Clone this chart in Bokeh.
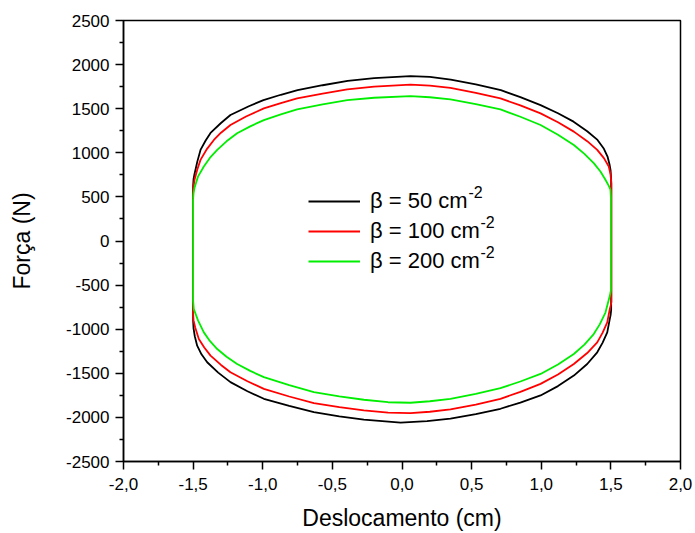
from bokeh.plotting import figure
from bokeh.models import Legend, LegendItem, FixedTicker, Label
from bokeh.embed import file_html
from bokeh.resources import INLINE

# ---- data (displacement cm, force N) ----
# beta = 50 cm^-2
b50_top_x = [-1.500, -1.497, -1.490, -1.483, -1.470, -1.447, -1.410, -1.375, -1.300, -1.232, -1.100, -0.995, -0.870, -0.750, -0.570, -0.390, -0.200, 0.060, 0.200, 0.350, 0.530, 0.710, 0.850, 0.995, 1.120, 1.232, 1.330, 1.404, 1.450, 1.476, 1.490, 1.498, 1.502]
b50_top_y = [620, 700, 760, 807, 900, 1033, 1140, 1225, 1338, 1428, 1528, 1597, 1658, 1710, 1766, 1815, 1846, 1870, 1860, 1830, 1776, 1710, 1631, 1541, 1448, 1353, 1245, 1146, 1045, 957, 870, 800, 700]
b50_bot_x = [1.502, 1.498, 1.492, 1.474, 1.440, 1.402, 1.330, 1.234, 1.120, 0.995, 0.850, 0.707, 0.530, 0.348, 0.180, -0.010, -0.274, -0.450, -0.633, -0.810, -0.992, -1.110, -1.232, -1.320, -1.399, -1.440, -1.471, -1.488, -1.497, -1.500]
b50_bot_y = [-780, -840, -886, -1036, -1155, -1262, -1395, -1526, -1645, -1751, -1832, -1902, -1963, -2015, -2043, -2060, -2026, -1988, -1939, -1870, -1789, -1703, -1600, -1492, -1375, -1285, -1187, -1080, -990, -900]

# beta = 100 cm^-2
b100_top_x = [-1.500, -1.497, -1.490, -1.470, -1.447, -1.400, -1.351, -1.300, -1.232, -1.120, -0.992, -0.870, -0.753, -0.570, -0.393, -0.200, 0.061, 0.200, 0.348, 0.530, 0.707, 0.850, 0.995, 1.120, 1.234, 1.330, 1.402, 1.450, 1.485, 1.497, 1.504]
b100_top_y = [560, 620, 694, 810, 920, 1045, 1146, 1228, 1315, 1412, 1503, 1564, 1616, 1672, 1718, 1750, 1774, 1762, 1736, 1680, 1616, 1538, 1447, 1347, 1240, 1132, 1033, 940, 845, 760, 650]
b100_bot_x = [1.504, 1.499, 1.492, 1.474, 1.440, 1.402, 1.330, 1.234, 1.120, 0.995, 0.850, 0.707, 0.530, 0.348, 0.200, 0.061, -0.100, -0.274, -0.450, -0.633, -0.810, -0.992, -1.110, -1.232, -1.300, -1.375, -1.420, -1.459, -1.485, -1.497, -1.500]
b100_bot_y = [-690, -730, -773, -923, -1042, -1149, -1270, -1394, -1513, -1620, -1710, -1789, -1854, -1910, -1936, -1951, -1945, -1921, -1884, -1838, -1763, -1676, -1590, -1488, -1405, -1300, -1208, -1112, -980, -900, -820]

# beta = 200 cm^-2
b200_top_x = [-1.500, -1.497, -1.490, -1.465, -1.423, -1.380, -1.327, -1.260, -1.184, -1.090, -0.992, -0.870, -0.753, -0.570, -0.393, -0.200, 0.061, 0.200, 0.348, 0.530, 0.707, 0.850, 0.995, 1.120, 1.234, 1.310, 1.377, 1.425, 1.461, 1.485, 1.497, 1.500]
b200_top_y = [480, 540, 604, 730, 845, 942, 1033, 1130, 1221, 1300, 1371, 1436, 1492, 1549, 1597, 1624, 1642, 1630, 1605, 1553, 1492, 1409, 1315, 1205, 1089, 988, 883, 788, 694, 625, 581, 500]
b200_bot_x = [1.500, 1.497, 1.492, 1.461, 1.420, 1.377, 1.310, 1.234, 1.120, 0.995, 0.850, 0.707, 0.530, 0.348, 0.200, 0.061, -0.100, -0.274, -0.450, -0.633, -0.810, -0.992, -1.090, -1.184, -1.260, -1.327, -1.380, -1.423, -1.465, -1.495, -1.500]
b200_bot_y = [-560, -590, -623, -811, -945, -1055, -1175, -1281, -1400, -1507, -1593, -1668, -1733, -1789, -1817, -1834, -1828, -1800, -1761, -1713, -1635, -1544, -1473, -1394, -1312, -1225, -1133, -1036, -900, -773, -680]

series_labels = ["β = 50 cm", "β = 100 cm", "β = 200 cm"]
series_label_sup = ["-2", "-2", "-2"]
series_colors = ["#000000", "#ff0000", "#00ee00"]

x_ticks = [-2.0, -1.5, -1.0, -0.5, 0.0, 0.5, 1.0, 1.5, 2.0]
x_tick_labels = ["-2,0", "-1,5", "-1,0", "-0,5", "0,0", "0,5", "1,0", "1,5", "2,0"]
y_ticks = [-2500, -2000, -1500, -1000, -500, 0, 500, 1000, 1500, 2000, 2500]
y_tick_labels = [str(v) for v in y_ticks]

FONT = "Liberation Sans"

p = figure(width=695, height=533, output_backend="svg", toolbar_location=None,
           x_range=(-2, 2), y_range=(-2500, 2500),
           min_border_left=123, min_border_right=15, min_border_top=20, min_border_bottom=70)
p.grid.visible = False
p.outline_line_color = "black"
p.outline_line_width = 1.5
p.background_fill_color = "white"
p.border_fill_color = "white"

loops = [
    (b50_top_x, b50_top_y, b50_bot_x, b50_bot_y),
    (b100_top_x, b100_top_y, b100_bot_x, b100_bot_y),
    (b200_top_x, b200_top_y, b200_bot_x, b200_bot_y),
]
renderers = []
for (tx, ty, bx, by), c in zip(loops, series_colors):
    xs = tx + bx + [tx[0]]
    ys = ty + by + [ty[0]]
    renderers.append(p.line(xs, ys, line_color=c, line_width=1.8, line_join="round"))

for ax, ticks, labels in ((p.xaxis[0], x_ticks, x_tick_labels), (p.yaxis[0], y_ticks, y_tick_labels)):
    ax.ticker = FixedTicker(ticks=ticks, minor_ticks=[(a + b) / 2 for a, b in zip(ticks[:-1], ticks[1:])])
    ax.major_label_overrides = {t: l for t, l in zip(ticks, labels)}
    ax.axis_line_width = 1.5
    ax.major_tick_line_width = 1.5
    ax.minor_tick_line_width = 1.5
    ax.major_tick_out = 8
    ax.major_tick_in = 0
    ax.minor_tick_out = 4
    ax.minor_tick_in = 0
    ax.major_label_text_font = FONT
    ax.major_label_text_font_size = "17px"
    ax.major_label_text_color = "black"
    ax.axis_label_text_font = FONT
    ax.axis_label_text_font_size = "23px"
    ax.axis_label_text_font_style = "normal"
    ax.axis_label_text_color = "black"

p.xaxis.axis_label = "Deslocamento (cm)"
p.yaxis.axis_label = "Força (N)"
p.xaxis.major_label_standoff = 8
p.yaxis.major_label_standoff = 6
p.xaxis.axis_label_standoff = 12
p.yaxis.axis_label_standoff = 28

legend = Legend(items=[LegendItem(label=l, renderers=[r]) for l, r in zip(series_labels, renderers)],
                location=(185, 185), padding=0, margin=0, spacing=0,
                glyph_width=52, glyph_height=30, label_height=30, label_standoff=10,
                label_text_font=FONT, label_text_font_size="22px", label_text_color="black",
                border_line_color=None, background_fill_alpha=0)
p.add_layout(legend, "center")

# superscripts of the legend labels (screen units, relative to the plot frame)
sup_x = [345, 357, 357]
sup_y = [270, 240, 210]
for t, sx, sy in zip(series_label_sup, sup_x, sup_y):
    p.add_layout(Label(x=sx, y=sy, x_units="screen", y_units="screen", text=t,
                       text_font=FONT, text_font_size="16px", text_baseline="alphabetic",
                       text_color="black"))

open("out.html", "w").write(file_html(p, INLINE))
